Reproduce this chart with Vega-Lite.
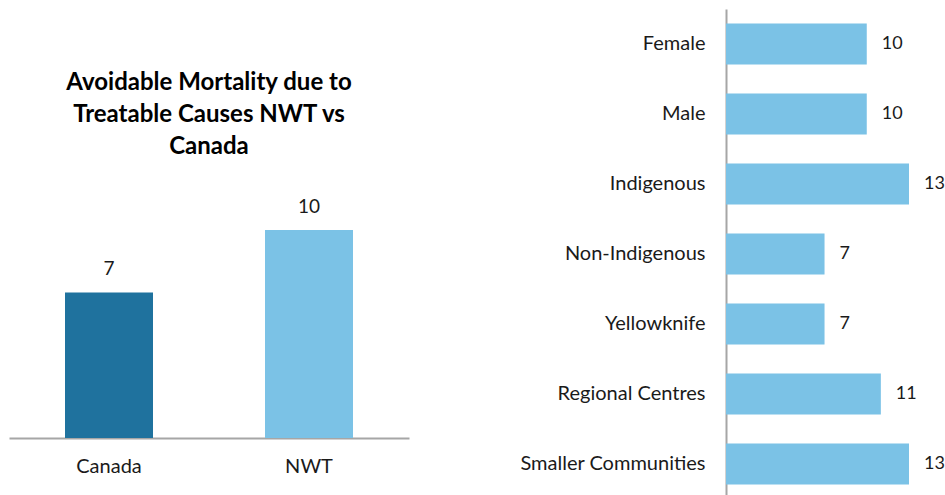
{
  "$schema": "https://vega.github.io/schema/vega-lite/v6.json",
  "background": "white",
  "padding": {"left": 9, "top": 9, "right": 0, "bottom": 0},
  "bounds": "flush",
  "spacing": 317,
  "config": {
    "font": "Lato",
    "view": {"stroke": null},
    "axis": {"grid": false, "ticks": false, "labelFont": "Lato", "labelFontSize": 20, "labelLimit": 0, "labelColor": "#1a1a1a", "domainColor": "#a6a6a6", "domainWidth": 2, "title": null}
  },
  "datasets": {
    "national": [
      {"region": "Canada", "rate": 7},
      {"region": "NWT", "rate": 10}
    ],
    "groups": [
      {"group": "Female", "rate": 10},
      {"group": "Male", "rate": 10},
      {"group": "Indigenous", "rate": 13},
      {"group": "Non-Indigenous", "rate": 7},
      {"group": "Yellowknife", "rate": 7},
      {"group": "Regional Centres", "rate": 11},
      {"group": "Smaller Communities", "rate": 13}
    ]
  },
  "hconcat": [
    {
      "width": 400,
      "height": 429,
      "data": {"name": "national"},
      "title": {
        "text": ["Avoidable Mortality due to", "Treatable Causes NWT vs", "Canada"],
        "font": "Lato",
        "fontSize": 24,
        "fontWeight": "bold",
        "color": "#000000",
        "lineHeight": 32,
        "anchor": "middle",
        "frame": "group",
        "offset": -150
      },
      "encoding": {
        "x": {
          "field": "region",
          "type": "nominal",
          "sort": null,
          "scale": {"paddingInner": 0.56, "paddingOuter": 0.28},
          "axis": {"labelAngle": 0, "labelPadding": 18}
        },
        "y": {
          "field": "rate",
          "type": "quantitative",
          "scale": {"domain": [0, 20.63], "nice": false},
          "axis": null
        }
      },
      "layer": [
        {
          "mark": {"type": "bar"},
          "encoding": {
            "color": {
              "field": "region",
              "type": "nominal",
              "scale": {"domain": ["Canada", "NWT"], "range": ["#1f729e", "#7bc2e6"]},
              "legend": null
            }
          }
        },
        {
          "mark": {"type": "text", "baseline": "middle", "dy": -23, "fontSize": 19, "color": "#1a1a1a"},
          "encoding": {"text": {"field": "rate", "type": "quantitative", "format": "d"}}
        }
      ]
    },
    {
      "width": 183,
      "height": 490,
      "data": {"name": "groups"},
      "encoding": {
        "y": {
          "field": "group",
          "type": "nominal",
          "sort": null,
          "scale": {"paddingInner": 0.414, "paddingOuter": 0.207},
          "axis": {"labelPadding": 21}
        },
        "x": {
          "field": "rate",
          "type": "quantitative",
          "scale": {"domain": [0, 13], "nice": false},
          "axis": null
        }
      },
      "layer": [
        {"mark": {"type": "bar", "color": "#7bc2e6"}},
        {
          "mark": {"type": "text", "align": "left", "baseline": "middle", "dx": 15, "fontSize": 18, "color": "#1a1a1a"},
          "encoding": {"text": {"field": "rate", "type": "quantitative", "format": "d"}}
        }
      ]
    }
  ]
}
